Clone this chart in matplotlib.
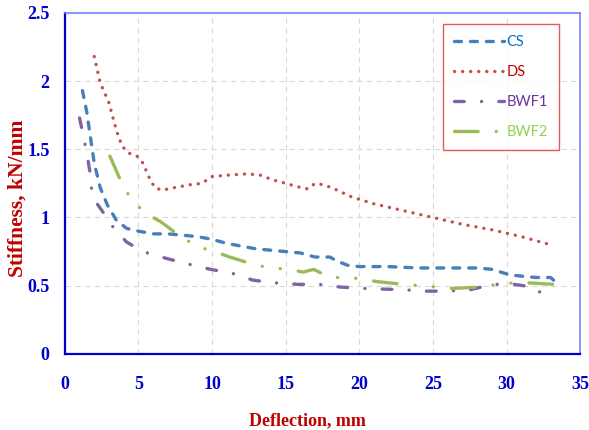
import numpy as np
import matplotlib
matplotlib.use("Agg")
import matplotlib.pyplot as plt

# data
cs_x = [1.2, 1.5, 1.7, 2.0, 2.4, 2.9, 3.5, 4.2, 5.0, 6.0, 7.0, 8.0, 9.0, 10.0,
        11.0, 12.0, 13.0, 14.0, 15.0, 16.0, 17.0, 18.0, 18.5, 19.2, 20.0, 22.0,
        24.0, 26.0, 28.0, 29.0, 29.6, 30.2, 31.0, 32.0, 33.0, 33.3]
cs_y = [1.93, 1.77, 1.62, 1.40, 1.22, 1.09, 0.98, 0.92, 0.90, 0.88, 0.88, 0.87,
        0.86, 0.84, 0.81, 0.79, 0.77, 0.76, 0.75, 0.74, 0.71, 0.71, 0.68, 0.65,
        0.64, 0.64, 0.63, 0.63, 0.63, 0.62, 0.60, 0.58, 0.57, 0.56, 0.56, 0.53]

ds_x = [2.0, 2.4, 3.0, 3.5, 3.9, 4.4, 4.9, 5.3, 5.7, 6.1, 6.6, 7.5, 8.5, 9.3,
        10.0, 11.0, 12.4, 13.3, 14.0, 15.0, 16.0, 16.5, 17.0, 17.6, 18.3, 19.5,
        21.0, 23.0, 25.0, 27.0, 29.0, 31.0, 33.0]
ds_y = [2.18, 1.99, 1.84, 1.64, 1.52, 1.47, 1.45, 1.40, 1.30, 1.22, 1.20, 1.22,
        1.24, 1.25, 1.30, 1.31, 1.32, 1.31, 1.28, 1.25, 1.22, 1.21, 1.25, 1.24,
        1.21, 1.15, 1.10, 1.05, 1.00, 0.95, 0.91, 0.86, 0.80]

bwf1_x = [1.0, 1.24, 1.5, 1.7, 1.8, 2.2, 2.85, 3.4, 4.2, 5.3, 6.9, 8.7, 9.9,
          11.4, 12.8, 14.4, 15.8, 17.3, 18.7, 20.3, 23.0, 24.6, 26.0, 27.5,
          29.1, 30.5, 31.8, 32.3]
bwf1_y = [1.73, 1.61, 1.47, 1.34, 1.22, 1.10, 1.00, 0.91, 0.82, 0.75, 0.70,
          0.65, 0.62, 0.59, 0.54, 0.52, 0.51, 0.51, 0.49, 0.48, 0.47, 0.46,
          0.46, 0.47, 0.51, 0.51, 0.49, 0.45]

bwf2_x = [3.06, 3.96, 4.6, 5.5, 6.5, 8.0, 9.2, 10.2, 11.2, 13.0, 14.1, 15.2,
          16.2, 16.9, 18.0, 19.2, 20.2, 21.2, 23.0, 24.1, 25.3, 26.4, 28.2,
          29.4, 30.4, 31.6, 33.2]
bwf2_y = [1.45, 1.23, 1.12, 1.03, 0.97, 0.85, 0.78, 0.75, 0.71, 0.65, 0.63,
          0.62, 0.60, 0.62, 0.56, 0.56, 0.55, 0.53, 0.51, 0.50, 0.49, 0.48,
          0.49, 0.51, 0.52, 0.52, 0.51]

labels = ["CS", "DS", "BWF1", "BWF2"]
text_colors = ["#0070c0", "#c00000", "#7030a0", "#92d050"]

plt.rcParams['lines.scale_dashes'] = False
fig = plt.figure(figsize=(5.89, 4.30), dpi=100)
ax = fig.add_axes([0.110, 0.177, 0.875, 0.793])

lw = 2.4
ax.plot(cs_x, cs_y, color="#4a7ebb", lw=lw, dashes=(5.0, 6.5),
        dash_capstyle="round", label=labels[0])
ax.plot(ds_x, ds_y, color="#c0504d", lw=lw, dashes=(0.1, 5.7),
        dash_capstyle="round", label=labels[1])
ax.plot(bwf1_x, bwf1_y, color="#8064a2", lw=lw, dashes=(7.0, 12.4, 0.1, 12.4),
        dash_capstyle="round", label=labels[2])
ax.plot(bwf2_x, bwf2_y, color="#9bbb59", lw=lw,
        dashes=(17.0, 13.0, 0.1, 13.0, 0.1, 13.0),
        dash_capstyle="round", label=labels[3])

ax.set_xlim(0, 35)
ax.set_ylim(0, 2.5)
ax.set_xticks(np.arange(0, 36, 5))
ax.set_yticks(np.arange(0, 2.51, 0.5))
ax.set_yticklabels(["0", "0.5", "1", "1.5", "2", "2.5"])
ax.grid(True, ls=(0, (4, 3)), color="#d9d9d9", lw=0.8)
ax.set_axisbelow(True)

tick_font = dict(family="Liberation Serif", weight="bold", size=13)
for t in ax.get_xticklabels() + ax.get_yticklabels():
    t.set_fontproperties(matplotlib.font_manager.FontProperties(**tick_font))
    t.set_color("#0000cc")
ax.tick_params(length=0)
ax.tick_params(axis="x", pad=16)
ax.tick_params(axis="y", pad=11)

for s in ("left", "bottom"):
    ax.spines[s].set_color("#0000cc")
    ax.spines[s].set_linewidth(1.6)
for s in ("top", "right"):
    ax.spines[s].set_color("#8080ff")
    ax.spines[s].set_linewidth(1.2)

ax.set_xlabel("Deflection, mm", family="Liberation Serif", weight="bold",
              size=13, color="#c00000")
ax.set_ylabel("Stiffness, kN/mm", family="Liberation Serif", weight="bold",
              size=15.5, color="#c00000")
ax.xaxis.set_label_coords(0.47, -0.17)
ax.yaxis.set_label_coords(-0.072, 0.457)

leg = ax.legend(loc="upper right", bbox_to_anchor=(0.959, 0.968),
                borderaxespad=0, fancybox=False, handlelength=3.4,
                handletextpad=0.2, labelspacing=1.1, borderpad=0.75,
                prop={"family": "Lato", "size": 10.5})
leg.get_frame().set_edgecolor("#e03030")
leg.get_frame().set_linewidth(1.0)
for txt, c in zip(leg.get_texts(), text_colors):
    txt.set_color(c)

fig.savefig("out.png", dpi=100)
